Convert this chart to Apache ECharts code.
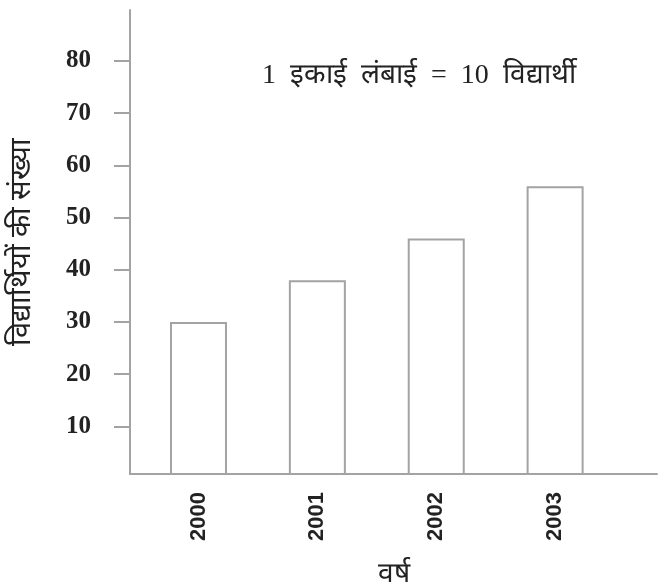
<!DOCTYPE html>
<html>
<head>
<meta charset="utf-8">
<script src="https://cdn.jsdelivr.net/npm/echarts@6/dist/echarts.min.js"></script>
<style>
  html, body { margin: 0; padding: 0; background: #fff; }
  #chart { width: 658px; height: 586px; }
</style>
</head>
<body>
<div id="chart"></div>
<script>
// data
var years = [2000, 2001, 2002, 2003]
var students = [30, 38, 46, 56]
var yTicks = [10, 20, 30, 40, 50, 60, 70, 80]

var lineColor = '#a3a3a3'

var chart = echarts.init(document.getElementById('chart'))

var option = {
  animation: false,
  grid: { left: 130, right: 1, top: 10, bottom: 112, outerBoundsMode: 'none' },
  xAxis: {
    type: 'value',
    min: 1999.424,
    max: 2003.857,
    name: 'वर्ष',
    nameLocation: 'middle',
    nameGap: 87,
    nameTextStyle: { fontSize: 28, color: '#222', fontFamily: 'serif' },
    splitLine: { show: false },
    axisLine: { show: true, lineStyle: { color: lineColor, width: 2 } },
    axisTick: { show: false },
    axisLabel: {
      customValues: years,
      rotate: 90,
      margin: 18,
      fontSize: 22,
      fontWeight: 'bold',
      fontFamily: 'Liberation Sans',
      color: '#222',
      formatter: function (v) { return String(v) }
    }
  },
  yAxis: {
    type: 'value',
    min: 0.88,
    max: 89.76,
    name: 'विद्यार्थियों की संख्या',
    nameLocation: 'middle',
    nameGap: 93,
    nameTextStyle: { fontSize: 29, color: '#222', fontFamily: 'serif' },
    splitLine: { show: false },
    axisLine: { show: true, lineStyle: { color: lineColor, width: 2 } },
    axisTick: {
      show: true,
      customValues: yTicks,
      length: 16,
      lineStyle: { color: lineColor, width: 2 }
    },
    axisLabel: {
      customValues: yTicks,
      margin: 39,
      fontSize: 25,
      fontWeight: 'bold',
      fontFamily: 'Liberation Serif',
      color: '#222'
    }
  },
  graphic: [
    {
      type: 'text',
      left: 262,
      top: 62,
      style: {
        text: '1  इकाई  लंबाई  =  10  विद्यार्थी',
        fontSize: 28,
        fontFamily: 'serif',
        fill: '#222'
      }
    }
  ],
  series: [
    {
      type: 'bar',
      barWidth: 57,
      clip: true,
      data: years.map(function (y, i) { return [y, students[i]] }),
      itemStyle: { color: '#fff', borderColor: lineColor, borderWidth: 2 }
    }
  ]
}

chart.setOption(option)
</script>
</body>
</html>
